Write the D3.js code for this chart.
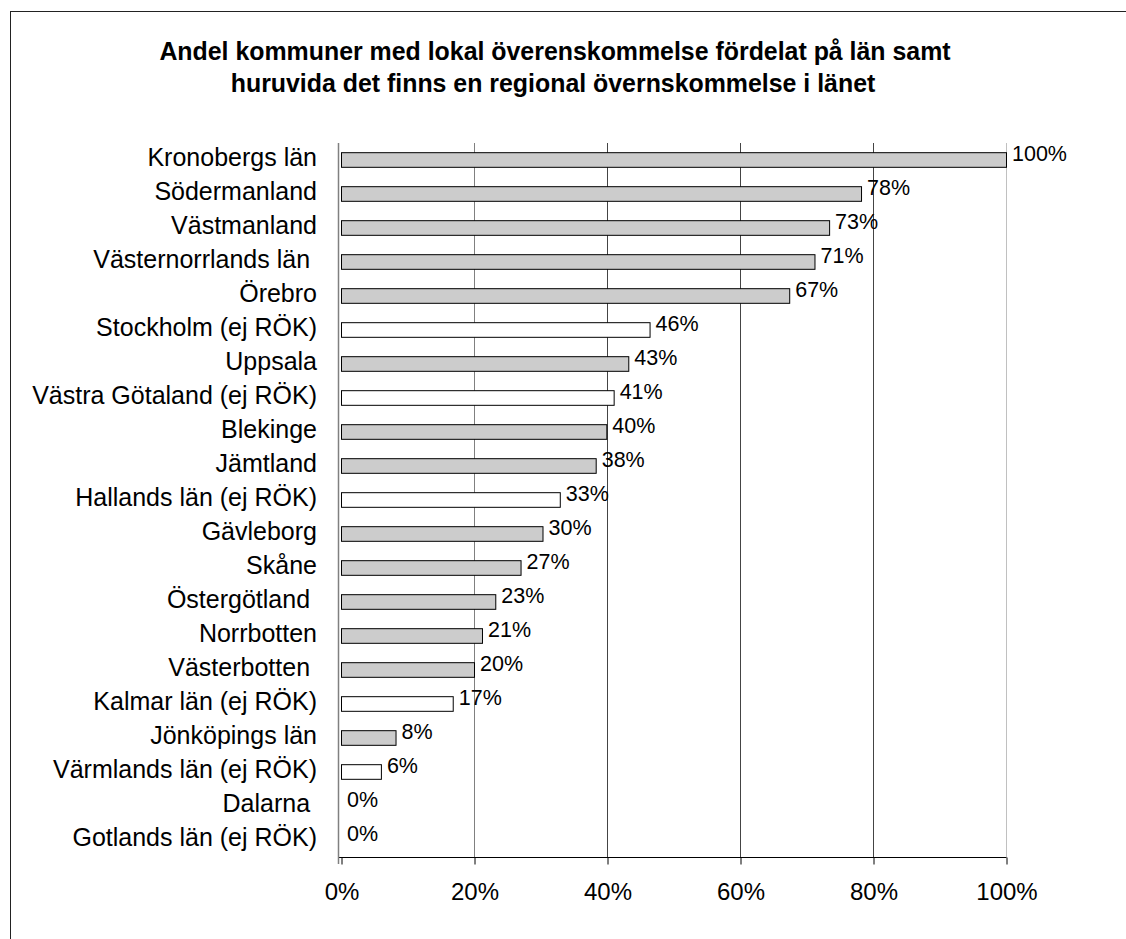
<!DOCTYPE html>
<html>
<head>
<meta charset="utf-8">
<script src="https://cdn.jsdelivr.net/npm/d3@7"></script>
<style>
  body { margin: 0; background: #fff; }
  text { font-family: "Liberation Sans", Arial, sans-serif; fill: #000; }
</style>
</head>
<body>
<svg id="chart" width="1126" height="939"></svg>
<script>
var lan = ["Kronobergs län", "Södermanland", "Västmanland", "Västernorrlands län ",
  "Örebro", "Stockholm (ej RÖK)", "Uppsala", "Västra Götaland (ej RÖK)", "Blekinge",
  "Jämtland", "Hallands län (ej RÖK)", "Gävleborg", "Skåne", "Östergötland ",
  "Norrbotten", "Västerbotten ", "Kalmar län (ej RÖK)", "Jönköpings län",
  "Värmlands län (ej RÖK)", "Dalarna ", "Gotlands län (ej RÖK)"]
var andel = [100, 78.2, 73.4, 71.2, 67.4, 46.4, 43.2, 41.0, 39.9, 38.3, 32.9,
  30.3, 27.0, 23.2, 21.2, 20.0, 16.8, 8.2, 6.0, 0, 0]
var etiketter = ["100%", "78%", "73%", "71%", "67%", "46%", "43%", "41%", "40%",
  "38%", "33%", "30%", "27%", "23%", "21%", "20%", "17%", "8%", "6%", "0%", "0%"]
// true = regional överenskommelse finns (grå stapel)
var regional = [true, true, true, true, true, false, true, false, true, true, false,
  true, true, true, true, true, false, true, false, true, false]
var xTicks = [0, 20, 40, 60, 80, 100]
var titel = ["Andel kommuner med lokal överenskommelse fördelat på län samt",
  "huruvida det finns en regional övernskommelse i länet"]

var svg = d3.select("#chart")

// ram runt diagrammet
svg.append("rect")
   .attr("x", 10.5).attr("y", 11.5)
   .attr("width", 1130).attr("height", 960)
   .attr("fill", "none").attr("stroke", "#222")

var x = d3.scaleLinear().domain([0, 100]).range([341, 1006])
var y = d3.scaleBand().domain(lan).range([143, 857])
          .paddingInner(0.57).paddingOuter(0.285)

var titleText = svg.append("text")
   .attr("x", 555).attr("y", 59.5)
   .attr("text-anchor", "middle")
   .style("font-size", "24.9px").style("font-weight", "bold")
titleText.selectAll("tspan")
   .data(titel)
   .enter()
   .append("tspan")
   .attr("x", function(d, i) { return i == 0 ? 555 : 553 })
   .attr("dy", function(d, i) { return i == 0 ? 0 : 32 })
   .text(function(d) { return d })

// stödlinjer
svg.selectAll("line.grid")
   .data(xTicks.slice(1))
   .enter()
   .append("line")
   .attr("class", "grid")
   .attr("x1", function(d) { return Math.round(x(d)) + 0.5 })
   .attr("x2", function(d) { return Math.round(x(d)) + 0.5 })
   .attr("y1", 143).attr("y2", 857)
   .attr("stroke", function(d) { return d == 100 ? "#c0c0c0" : (d == 20 ? "#808080" : "#444") })

// x-axel
var xAxis = d3.axisBottom(x)
              .tickValues(xTicks)
              .tickSize(7)
              .tickSizeOuter(0)
              .tickPadding(18)
              .tickFormat(function(d) { return d + "%" })
var gx = svg.append("g")
   .attr("transform", "translate(0.5,857.5)")
   .call(xAxis)
gx.select(".domain").attr("stroke", "#000")
   .attr("d", "M" + (x(0) - 3.5) + ",0H" + Math.round(x(100)))
gx.selectAll(".tick line").attr("stroke", "#000")
gx.selectAll(".tick text")
   .style("font-size", "24px")
   .style("font-family", "'Liberation Sans', Arial, sans-serif")
   .attr("fill", "#000")

// y-axel
svg.append("line")
   .attr("x1", x(0) - 2.5).attr("x2", x(0) - 2.5)
   .attr("y1", 143).attr("y2", 864)
   .attr("stroke", "#808080").attr("stroke-width", 1.5)

var yAxis = d3.axisLeft(y).tickSize(0).tickPadding(24)
var gy = svg.append("g")
   .attr("transform", "translate(" + x(0) + ",-2)")
   .call(yAxis)
gy.select(".domain").remove()
gy.selectAll(".tick text")
   .style("font-size", "25px")
   .style("font-family", "'Liberation Sans', Arial, sans-serif")
   .style("white-space", "pre")
   .attr("fill", "#000")

// staplar
svg.selectAll("rect.bar")
   .data(andel)
   .enter()
   .filter(function(d) { return d > 0 })
   .append("rect")
   .attr("class", "bar")
   .attr("x", x(0) + 0.5)
   .attr("y", function(d, i) { return y(lan[andel.indexOf(d)]) })
   .attr("width", function(d) { return x(d) - x(0) })
   .attr("height", y.bandwidth())
   .attr("fill", function(d) { return regional[andel.indexOf(d)] ? "#cccccc" : "#ffffff" })
   .attr("stroke", "#000").attr("stroke-width", 1)

svg.selectAll("text.value")
   .data(andel)
   .enter()
   .append("text")
   .attr("class", "value")
   .attr("x", function(d) { return x(d) + 6 })
   .attr("y", function(d, i) { return y(lan[i]) + y.bandwidth() / 2 + 0.5 })
   .style("font-size", "21.5px")
   .text(function(d, i) { return etiketter[i] })
</script>
</body>
</html>
